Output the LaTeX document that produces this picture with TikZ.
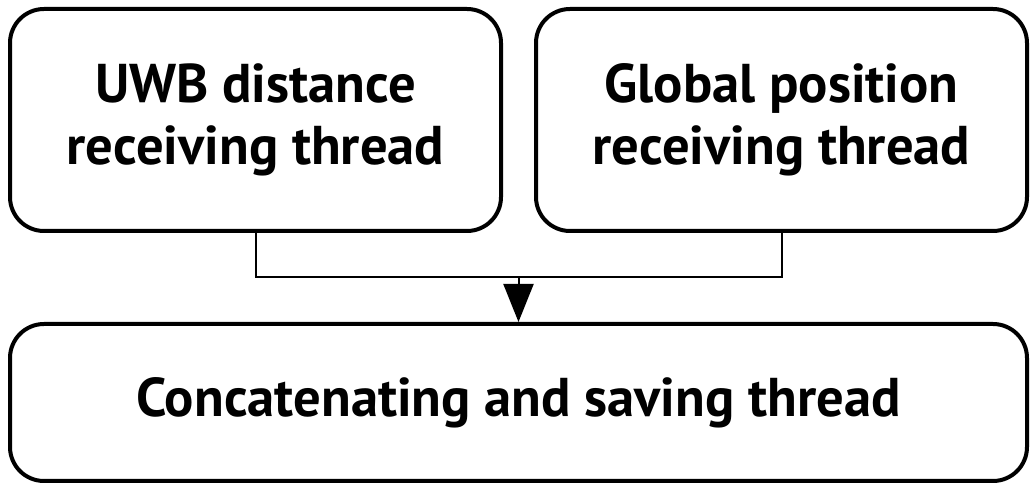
\documentclass[tikz,border=0pt]{standalone}
\usepackage{fontspec}
\setmainfont{PT Sans}
\usetikzlibrary{arrows.meta}

\begin{document}
\begin{tikzpicture}[x=0.5pt,y=-0.5pt,
  thread/.style={draw,line width=2pt,rounded corners=17pt,align=center,
    font=\fontsize{27.3}{31}\selectfont\bfseries},
  link/.style={line width=1pt}]
\useasboundingbox (0,0) rectangle (1035,491);
\node[thread,minimum width=245.5pt,minimum height=111pt] (uwb) at (255.5,120) {UWB distance\\receiving thread};
\node[thread,minimum width=245.5pt,minimum height=111pt] (gps) at (781.5,120) {Global position\\receiving thread};
\node[thread,minimum width=508.5pt,minimum height=78.5pt] (concat) at (518.5,402.5) {Concatenating and saving thread};
\coordinate (join) at (518.5,277);
\draw[link] (uwb.south) |- (join) -| (gps.south);
\draw[link,-{Triangle[width=15pt,length=19pt]}] (join) -- (concat.north);
\end{tikzpicture}
\end{document}
